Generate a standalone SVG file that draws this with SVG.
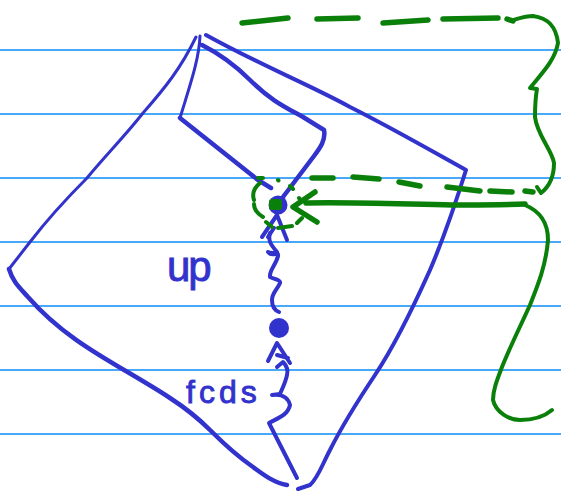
<svg xmlns="http://www.w3.org/2000/svg" width="561" height="492" viewBox="0 0 561 492">
<style>
.rule{stroke:#4aa8f8;stroke-width:2;fill:none}
.b{stroke:#3232cc;fill:none;stroke-linecap:round;stroke-linejoin:round;stroke-width:4}
.t{stroke-width:3}
.k{stroke-width:4.500}
.g{stroke:#0a800a;fill:none;stroke-linecap:round;stroke-linejoin:round;stroke-width:4}
.d{stroke-width:5.500}
.lab{font-family:"Liberation Sans",Arial,sans-serif;fill:#3232cc;stroke:#3232cc;stroke-width:.9}
</style>
<rect width="561" height="492" fill="#fff"/>
<g id="rules">
<path class="rule" d="M0 50H561M0 114H561M0 178H561M0 242H561M0 306H561M0 370H561M0 434H561"/>
</g>
<g id="outline">
<path class="b t" d="M196 37C181 68 165 88 143 113C125 136 105 156 87 178C65 200 47 220 30 242L9 269"/>
<path class="b k" d="M9 269C13 282 19 287 28 297C70 345 120 365 170 398C190 411 200 420 210 430C225 445 240 458 253 467C265 476 275 483 287 485"/>
<path class="b" d="M206 35C260 65 310 85 350 107C390 127 430 150 466 170C455 205 445 235 430 270C412 310 395 345 375 375C355 405 340 430 330 450C322 465 318 478 310 485L298 489"/>
</g>
<g id="inner-box">
<path class="b t" d="M200 36C199 60 190 85 180 118"/>
<path class="b k" d="M180 118L258 180L271 188"/>
<path class="b k" d="M202 45C222 55 237 67 250 80C270 100 285 107 303 117L324 130C326 140 320 148 314 156L283 197"/>
</g>
<g id="green-focus">
<circle cx="278" cy="205" r="9.500" fill="#3232cc"/>
<rect x="269" y="199" width="13" height="11" rx="3" fill="#0a800a"/>
</g>
<g id="lower-point">
<circle cx="279" cy="328" r="10" fill="#3232cc"/>
</g>
<g id="connectors">
<path class="b" d="M277 215L262 237M274 228L268 237M277 215L287 240"/>
<path class="b" d="M270 233C268 240 270 244 277 252C272 254 268 252 268 252C272 258 279 250 278 256C276 265 269 270 270 277C274 279 281 280 280 283C277 290 272 293 272 300C272 306 274 310 279 312"/>
<path class="b" d="M268 361L277 343L290 363M277 355L288 358"/>
<path class="b" d="M277 367L283 362C287 366 288 371 287 375C286 381 283 387 280 394L272 395C280 394 288 396 290 405C288 415 278 418 269 423L297 478"/>
<path class="g d" d="M242 23L288 18M317 19L358 18M383 23L428 20M443 19L498 18M507 19L513 21M312 178L333 178M353 177L379 179M399 182L420 186M447 187L480 191M490 191L512 192M525 191L533 192"/>
<path class="g" d="M513 20C520 18 526 16 533 16C548 18 556 26 558 43C555 60 543 72 530 88L537 89C535 100 535 108 535 117C537 135 552 150 554 163C554 175 550 186 541 193L537 187"/>
<path class="g d" d="M306 203C350 202 400 204 452 205C480 205 505 205 525 204"/>
<path class="g" d="M525 205C542 212 548 225 548 240C546 265 538 285 530 305C520 327 510 347 502 367C497 380 493 390 493 400C496 413 510 420 520 420C535 420 545 416 552 410"/>
<path class="g d" d="M315 192L293 207L317 222"/>
<path class="g" d="M258 178L263 178M260 183C254 188 252 194 254 200M254 204C254 210 258 214 263 217M266 222L272 227M278 228L292 226M297 223L302 218M290 186L293 189M278 180L278.500 180.500M299 198L299.500 198.500"/>
</g>
<g id="labels">
<text class="lab" x="167" y="281" font-size="42" letter-spacing="-2">up</text>
<text class="lab" x="186" y="403" font-size="32" letter-spacing="4">fcds</text>
</g>
</svg>
